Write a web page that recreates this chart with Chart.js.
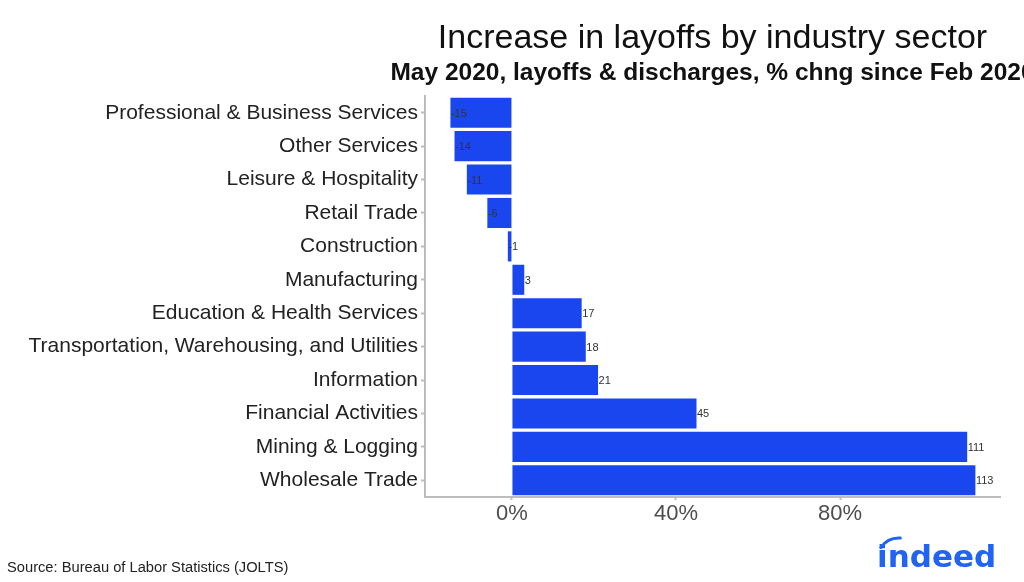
<!DOCTYPE html>
<html>
<head>
<meta charset="utf-8">
<script src="https://cdn.jsdelivr.net/npm/chart.js@4"></script>
<style>
  html, body { margin: 0; padding: 0; background: #fff; }
  #wrap { width: 1024px; height: 582px; position: relative; }
</style>
</head>
<body>
<div id="wrap"><canvas id="layoffsChart" width="1024" height="582"></canvas></div>
<script>
// data
const sectors = [
    "Professional & Business Services",
    "Other Services",
    "Leisure & Hospitality",
    "Retail Trade",
    "Construction",
    "Manufacturing",
    "Education & Health Services",
    "Transportation, Warehousing, and Utilities",
    "Information",
    "Financial Activities",
    "Mining & Logging",
    "Wholesale Trade"
];
const pctChange = [-15, -14, -11, -6, -1, 3, 17, 18, 21, 45, 111, 113];
const xTicks = [0, 40, 80];

const titleText = "Increase in layoffs by industry sector";
const subtitleText = "May 2020, layoffs & discharges, % chng since Feb 2020";
const sourceText = "Source: Bureau of Labor Statistics (JOLTS)";

const FONT = "'Liberation Sans', Arial, Helvetica, sans-serif";
const axisGray = "#bdbdbd";

// value labels, left aligned at the end of each bar
const valueLabels = {
    id: "valueLabels",
    afterDatasetsDraw(chart) {
        const ctx = chart.ctx;
        const meta = chart.getDatasetMeta(0);
        const xs = chart.scales.x;
        ctx.save();
        ctx.font = "11px " + FONT;
        ctx.fillStyle = "#333";
        ctx.textAlign = "left";
        ctx.textBaseline = "middle";
        meta.data.forEach((bar, i) => {
            ctx.fillText(String(pctChange[i]), xs.getPixelForValue(pctChange[i]) + 0.5, bar.y + 1);
        });
        ctx.restore();
    }
};

// title, subtitle, source and logo
const decorations = {
    id: "decorations",
    afterDraw(chart) {
        const ctx = chart.ctx;
        const area = chart.chartArea;
        const cx = (area.left + area.right) / 2;
        ctx.save();
        ctx.textAlign = "center";
        ctx.textBaseline = "alphabetic";
        ctx.fillStyle = "#111";
        ctx.font = "300 34px " + FONT;
        ctx.fillText(titleText, cx, 48);
        ctx.font = "bold 24.5px " + FONT;
        ctx.fillText(subtitleText, cx, 80);

        ctx.textAlign = "left";
        ctx.font = "14.7px " + FONT;
        ctx.fillStyle = "#222";
        ctx.fillText(sourceText, 7, 572);

        // indeed logo
        ctx.fillStyle = "#2164f3";
        ctx.font = "bold 31px 'DejaVu Sans', sans-serif";
        ctx.fillText("indeed", 877, 567);
        ctx.strokeStyle = "#2164f3";
        ctx.lineWidth = 3;
        ctx.lineCap = "round";
        ctx.beginPath();
        ctx.arc(899, 560, 22, Math.PI * 1.19, Math.PI * 1.52);
        ctx.stroke();
        ctx.restore();
    }
};

new Chart(document.getElementById("layoffsChart").getContext("2d"), {
    type: "bar",
    data: {
        labels: sectors,
        datasets: [{
            data: pctChange,
            backgroundColor: "#1a46f0",
            borderWidth: 0,
            barPercentage: 0.9,
            categoryPercentage: 1.0
        }]
    },
    options: {
        indexAxis: "y",
        responsive: false,
        animation: false,
        devicePixelRatio: 1,
        layout: { padding: { top: 96, right: 24, bottom: 45, left: 0 } },
        plugins: {
            legend: { display: false },
            tooltip: { enabled: false }
        },
        scales: {
            x: {
                min: -21.2,
                max: 119,
                afterBuildTicks: (axis) => { axis.ticks = xTicks.map(v => ({ value: v })); },
                afterFit: (axis) => { axis.height = 40; },
                grid: {
                    drawOnChartArea: false,
                    drawTicks: true,
                    tickLength: 3,
                    tickWidth: 2,
                    tickColor: axisGray
                },
                border: { color: axisGray, width: 2 },
                ticks: {
                    color: "#4d4d4d",
                    font: { family: FONT, size: 22 },
                    padding: 1,
                    callback: (v) => v + "%"
                }
            },
            y: {
                afterFit: (axis) => { axis.width = 425; },
                grid: {
                    offset: false,
                    drawOnChartArea: false,
                    drawTicks: true,
                    tickLength: 4,
                    tickWidth: 2,
                    tickColor: axisGray
                },
                border: { color: axisGray, width: 2 },
                ticks: {
                    color: "#222",
                    font: { family: FONT, size: 21 },
                    padding: 3
                }
            }
        }
    },
    plugins: [valueLabels, decorations]
});
</script>
</body>
</html>
